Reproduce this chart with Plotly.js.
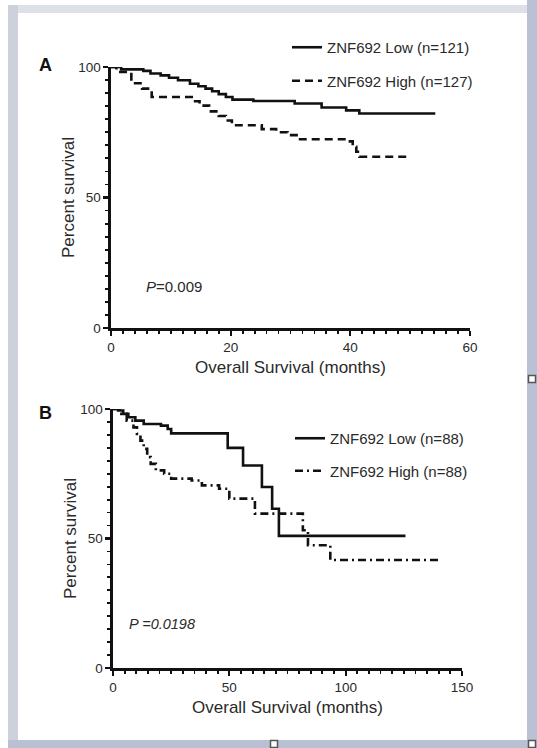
<!DOCTYPE html>
<html>
<head>
<meta charset="utf-8">
<script src="https://cdn.plot.ly/plotly-3.0.1.min.js"></script>
<style>html,body{margin:0;padding:0;background:#fff;}#chart{width:537px;height:748px;}</style>
</head>
<body>
<div id="chart"></div>
<script>
// ---- Data ----
const aLowMonths  = [0, 1.7, 5.4, 6.6, 8.3, 9.7, 11.2, 13.2, 14.6, 15.8, 16.9, 18, 19.2, 20.3, 23.8, 30.7, 35.2, 39.3, 41.5, 54.2];
const aLowSurv    = [100, 99.1, 98.5, 97.5, 96.8, 95.9, 94.9, 93.6, 92.6, 91.7, 90.7, 89.6, 88.5, 87.5, 87.0, 86.0, 84.5, 83.4, 82.2, 82.2];
const aHighMonths = [0, 0.9, 3.4, 5.2, 6.8, 13.8, 14.8, 16.4, 18, 19.2, 20.2, 25.2, 27.6, 29.5, 31.6, 39.4, 40.4, 41, 41.5, 49.6];
const aHighSurv   = [100, 98.1, 93.8, 91.7, 88.5, 86.9, 85.2, 83.0, 81.2, 79.5, 77.7, 76.2, 75.0, 73.9, 72.3, 71.5, 69.4, 67.5, 65.6, 65.6];
const bLowMonths  = [0, 2.2, 4.4, 6.6, 9.6, 13.2, 20.6, 23.5, 25, 49.3, 55.9, 64, 68.4, 71.3, 125.7];
const bLowSurv    = [100, 99.4, 98.1, 96.8, 95.5, 94.2, 93.6, 92.3, 90.6, 85, 78.2, 69.9, 61.5, 51, 51];
const bHighMonths = [0, 2.9, 5.9, 8.8, 10.3, 11.8, 13.2, 14.7, 16.2, 18.4, 22, 25, 33.8, 38.2, 45.6, 50, 61, 81.6, 83.8, 93.4, 141.2];
const bHighSurv   = [100, 98.1, 95.5, 92.9, 90.4, 87.8, 84.6, 81.4, 78.8, 76.3, 75, 73.1, 72.4, 70.5, 69.2, 65.4, 59.6, 53.2, 47.4, 41.7, 41.7];
const seriesNamesA = ["ZNF692 Low (n=121)", "ZNF692 High (n=127)"];
const seriesNamesB = ["ZNF692 Low (n=88)", "ZNF692 High (n=88)"];
const panelLabels = ["A", "B"];
const pValues = ["<i>P</i>=0.009", "<i>P =0.0198</i>"];
const xTitle = "Overall Survival (months)";
const yTitle = "Percent survival";

// ---- helpers (page pixels -> paper fraction) ----
const W = 537, H = 748;
const px = x => x / W;
const py = y => 1 - y / H;

const FONT = "Liberation Sans, Arial, sans-serif";
const TXT = "#2a2a2a";
const AX = "#111111";

const traces = [
  {x: aLowMonths, y: aLowSurv, name: seriesNamesA[0], xaxis: "x", yaxis: "y", legend: "legend", legendgroup: "a1",
   mode: "lines", line: {shape: "hv", color: "#111", width: 2.6}},
  {x: aHighMonths, y: aHighSurv, name: seriesNamesA[1], xaxis: "x", yaxis: "y", legend: "legend", legendgroup: "a2",
   mode: "lines", line: {shape: "hv", color: "#111", width: 2.6, dash: "8px,5px"}},
  {x: bLowMonths, y: bLowSurv, name: seriesNamesB[0], xaxis: "x2", yaxis: "y2", legend: "legend2", legendgroup: "b1",
   mode: "lines", line: {shape: "hv", color: "#111", width: 2.6}},
  {x: bHighMonths, y: bHighSurv, name: seriesNamesB[1], xaxis: "x2", yaxis: "y2", legend: "legend2", legendgroup: "b2",
   mode: "lines", line: {shape: "hv", color: "#111", width: 2.6, dash: "8px,4px,2px,4px"}}
];

function xAxis(domain, range, dtick, minorDtick, anchor) {
  return {
    domain: domain, range: range, anchor: anchor, dtick: dtick, tick0: 0,
    showline: true, linewidth: 2.6, linecolor: AX, mirror: false,
    ticks: "outside", ticklen: 5, tickwidth: 2.2, tickcolor: AX,
    minor: {dtick: minorDtick, ticks: "outside", ticklen: 3.5, tickwidth: 1.8, tickcolor: AX, showgrid: false},
    showgrid: false, zeroline: false, fixedrange: true,
    tickfont: {family: FONT, size: 13.5, color: TXT},
    title: {text: xTitle, font: {family: FONT, size: 17, color: TXT}, standoff: 8}
  };
}
function yAxis(domain, anchor) {
  return {
    domain: domain, range: [0, 100], anchor: anchor, dtick: 50, tick0: 0,
    showline: true, linewidth: 2.6, linecolor: AX,
    ticks: "outside", ticklen: 5, tickwidth: 2.2, tickcolor: AX,
    minor: {dtick: 5, ticks: "outside", ticklen: 3.5, tickwidth: 1.8, tickcolor: AX, showgrid: false},
    showgrid: false, zeroline: false, fixedrange: true,
    tickfont: {family: FONT, size: 13.5, color: TXT},
    title: {text: yTitle, font: {family: FONT, size: 17, color: TXT}, standoff: 0}
  };
}

const frameShapes = [
  {type: "rect", xref: "paper", yref: "paper", x0: px(8), x1: px(527), y0: py(13), y1: py(5), fillcolor: "#dde0e7", line: {width: 0}, layer: "below"},
  {type: "rect", xref: "paper", yref: "paper", x0: px(8), x1: px(18), y0: py(740), y1: py(5), fillcolor: "#cdd1dc", line: {width: 0}, layer: "below"},
  {type: "rect", xref: "paper", yref: "paper", x0: px(527), x1: px(537), y0: py(748), y1: py(0), fillcolor: "#bac1d5", line: {width: 0}, layer: "below"},
  {type: "rect", xref: "paper", yref: "paper", x0: px(8), x1: px(537), y0: py(748), y1: py(740), fillcolor: "#b9c0d3", line: {width: 0}, layer: "below"}
];
[[532, 379], [274, 744], [532, 744]].forEach(c => {
  frameShapes.push({type: "rect", xref: "paper", yref: "paper", x0: px(c[0] - 3.5), x1: px(c[0] + 3.5), y0: py(c[1] + 3.5), y1: py(c[1] - 3.5),
    fillcolor: "#ffffff", line: {width: 1.5, color: "#555"}});
});

const layout = {
  width: W, height: H,
  margin: {l: 0, r: 0, t: 0, b: 0},
  paper_bgcolor: "#ffffff", plot_bgcolor: "#ffffff",
  showlegend: true,
  xaxis: xAxis([px(111), px(470)], [0, 60], 20, 2, "y"),
  yaxis: yAxis([py(328), py(67)], "x"),
  xaxis2: xAxis([px(113), px(462)], [0, 150], 50, 5, "y2"),
  yaxis2: yAxis([py(668), py(409)], "x2"),
  legend: {x: px(287), y: py(31), xanchor: "left", yanchor: "top", bgcolor: "rgba(0,0,0,0)",
           font: {family: FONT, size: 15, color: TXT}, tracegroupgap: 11, traceorder: "grouped"},
  legend2: {x: px(290), y: py(422), xanchor: "left", yanchor: "top", bgcolor: "rgba(0,0,0,0)",
            font: {family: FONT, size: 15, color: TXT}, tracegroupgap: 10, traceorder: "grouped"},
  shapes: frameShapes,
  annotations: [
    {text: "<b>" + panelLabels[0] + "</b>", xref: "paper", yref: "paper", x: px(37), y: py(53), showarrow: false,
     font: {family: FONT, size: 18, color: "#111"}},
    {text: "<b>" + panelLabels[1] + "</b>", xref: "paper", yref: "paper", x: px(37), y: py(413), showarrow: false,
     font: {family: FONT, size: 18, color: "#111"}},
    {text: pValues[0], xref: "paper", yref: "paper", x: px(144), y: py(286), xanchor: "left", showarrow: false,
     font: {family: FONT, size: 15, color: TXT}},
    {text: pValues[1], xref: "paper", yref: "paper", x: px(127), y: py(634), xanchor: "left", showarrow: false,
     font: {family: FONT, size: 14.5, color: TXT}}
  ]
};

Plotly.newPlot("chart", traces, layout, {displayModeBar: false, staticPlot: true});
</script>
</body>
</html>
